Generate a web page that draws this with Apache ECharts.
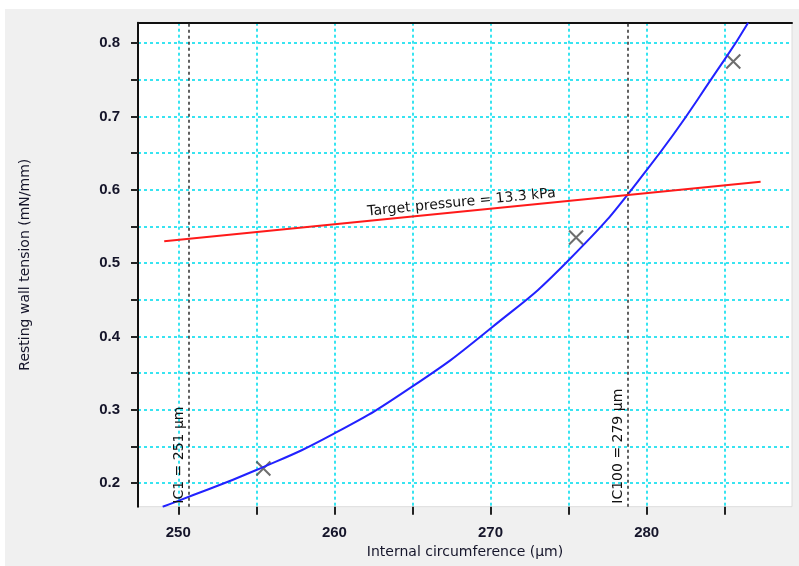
<!DOCTYPE html>
<html>
<head>
<meta charset="utf-8">
<script src="https://cdn.jsdelivr.net/npm/echarts@6/dist/echarts.min.js"></script>
<style>
html,body{margin:0;padding:0;background:#fff;}
#chart{width:799px;height:566px;}
</style>
</head>
<body>
<div id="chart"></div>
<script>
// Fitted curve (internal circumference µm, wall tension mN/mm)
const curveIC = [249.0, 250, 255, 260, 265, 270, 275, 280, 285, 286.5];
const curveT  = [0.168, 0.176, 0.218, 0.268, 0.332, 0.411, 0.504, 0.627, 0.778, 0.828];
// Measured points (× markers)
const pointIC = [255.45, 275.48, 285.55];
const pointT  = [0.220, 0.535, 0.775];
// Target pressure line endpoints
const targetIC = [249.1, 287.3];
const targetT  = [0.530, 0.611];
const targetLabel = 'Target pressure = 13.3 kPa';
// Vertical reference lines
const refIC = [250.7, 278.8];
const refLabels = ['IC1 = 251 µm', 'IC100 = 279 µm'];
// Axes
const xMin = 247.42, xMax = 289.31;
const yMin = 0.168, yMax = 0.828;
const xTickValues = [250, 255, 260, 265, 270, 275, 280, 285];
const xLabelValues = [250, 260, 270, 280];
const yTickValues = [0.2, 0.25, 0.3, 0.35, 0.4, 0.45, 0.5, 0.55, 0.6, 0.65, 0.7, 0.75, 0.8];
const yLabelValues = [0.2, 0.3, 0.4, 0.5, 0.6, 0.7, 0.8];
const xName = 'Internal circumference (µm)';
const yName = 'Resting wall tension (mN/mm)';

const FONT = 'DejaVu Sans';
const TICKFONT = 'Liberation Sans';
const textColor = '#15152a';
const gridColor = '#22e2f0';

const chart = echarts.init(document.getElementById('chart'), null, {renderer: 'canvas'});
chart.setOption({
  backgroundColor: '#f0f0f0',
  animation: false,
  graphic: [
    {type: 'rect', shape: {x: 0, y: 0, width: 799, height: 9}, style: {fill: '#ffffff'}, silent: true},
    {type: 'rect', shape: {x: 0, y: 0, width: 5, height: 566}, style: {fill: '#ffffff'}, silent: true}
  ],
  grid: {
    left: 138, top: 22.7, right: 7, bottom: 59.3,
    show: true, backgroundColor: '#ffffff', borderColor: '#dcdcdc', borderWidth: 1,
    containLabel: false
  },
  xAxis: [{
    type: 'value', min: xMin, max: xMax,
    name: xName, nameLocation: 'middle', nameGap: 38,
    nameTextStyle: {fontFamily: FONT, fontSize: 14, color: textColor},
    axisLine: {show: false},
    axisTick: {show: true, customValues: xTickValues, length: 8, lineStyle: {color: '#222', width: 2}},
    axisLabel: {show: true, customValues: xLabelValues, margin: 19, fontFamily: TICKFONT, fontWeight: 'bold', fontSize: 15, color: textColor},
    splitLine: {show: true, lineStyle: {color: gridColor, width: 1.8, type: [3, 3]}}
  }, {
    type: 'value', min: xMin, max: xMax, position: 'top',
    axisLine: {show: true, onZero: false, lineStyle: {color: '#111', width: 2}},
    axisTick: {show: false}, axisLabel: {show: false}, splitLine: {show: false}
  }],
  yAxis: {
    type: 'value', min: yMin, max: yMax,
    name: yName, nameLocation: 'middle', nameGap: 106, nameRotate: 90,
    nameTextStyle: {fontFamily: FONT, fontSize: 14, color: textColor},
    axisLine: {show: true, onZero: false, lineStyle: {color: '#111', width: 2}},
    axisTick: {show: true, customValues: yTickValues, length: 7, lineStyle: {color: '#222', width: 2}},
    axisLabel: {show: true, customValues: yLabelValues, margin: 18, fontFamily: TICKFONT, fontWeight: 'bold', fontSize: 15, color: textColor,
      formatter: v => Number(v).toFixed(1)},
    splitLine: {show: true, lineStyle: {color: gridColor, width: 1.8, type: [3, 3]}}
  },
  series: [
    {
      type: 'line', xAxisIndex: 0, data: [], silent: true,
      markLine: {
        silent: true, symbol: ['none', 'none'],
        lineStyle: {color: '#3a3a3a', width: 1.6, type: [3, 3]},
        label: {show: true, position: 'insideStartTop', distance: 3, fontFamily: FONT, fontSize: 14, color: '#111',
          formatter: p => p.name},
        data: refIC.map((v, i) => ({xAxis: v, name: refLabels[i]}))
      }
    },
    {
      type: 'line', xAxisIndex: 0, data: [], silent: true,
      markLine: {
        silent: true, symbol: ['none', 'none'],
        lineStyle: {color: '#ff1a1a', width: 2, type: 'solid'},
        label: {show: true, position: 'middle', distance: 2, fontFamily: FONT, fontSize: 14, color: '#111',
          formatter: () => targetLabel},
        data: [[{coord: [targetIC[0], targetT[0]]}, {coord: [targetIC[1], targetT[1]]}]]
      }
    },
    {
      type: 'line', xAxisIndex: 0, smooth: 0.5, showSymbol: false, clip: true,
      lineStyle: {color: '#2222ff', width: 2},
      data: curveIC.map((v, i) => [v, curveT[i]])
    },
    {
      type: 'scatter', xAxisIndex: 0,
      symbol: 'path://M0,0L10,10M10,0L0,10', symbolSize: 14,
      itemStyle: {color: 'rgba(0,0,0,0)', borderColor: '#4a4a4a', borderWidth: 2},
      data: pointIC.map((v, i) => [v, pointT[i]])
    }
  ]
});
</script>
</body>
</html>
